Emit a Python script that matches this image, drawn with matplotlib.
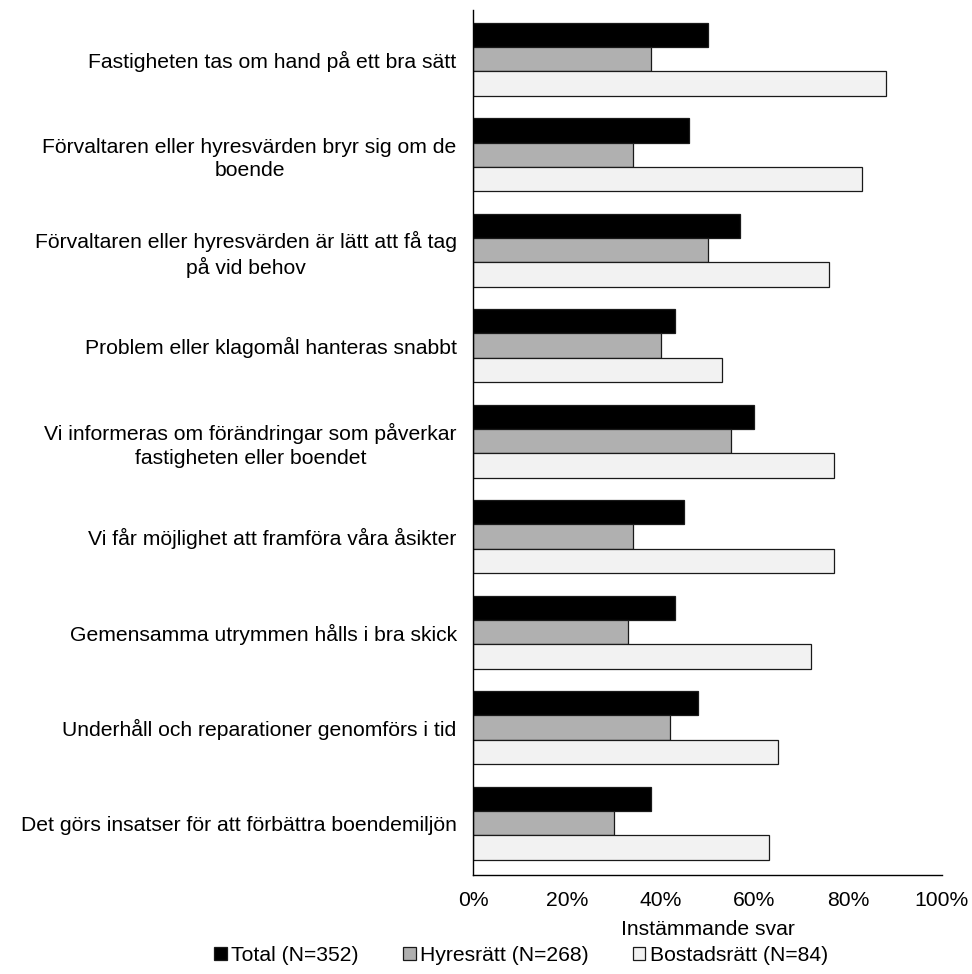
import numpy as np
import matplotlib.pyplot as plt

plt.rcParams['font.family'] = ['Liberation Sans', 'DejaVu Sans']

categories = [
    'Fastigheten tas om hand på ett bra sätt',
    'Förvaltaren eller hyresvärden bryr sig om de\nboende',
    'Förvaltaren eller hyresvärden är lätt att få tag\npå vid behov',
    'Problem eller klagomål hanteras snabbt',
    'Vi informeras om förändringar som påverkar\nfastigheten eller boendet',
    'Vi får möjlighet att framföra våra åsikter',
    'Gemensamma utrymmen hålls i bra skick',
    'Underhåll och reparationer genomförs i tid',
    'Det görs insatser för att förbättra boendemiljön',
]
total = [50, 46, 57, 43, 60, 45, 43, 48, 38]
hyresratt = [38, 34, 50, 40, 55, 34, 33, 42, 30]
bostadsratt = [88, 83, 76, 53, 77, 77, 72, 65, 63]

series_names = ['Total (N=352)', 'Hyresrätt (N=268)', 'Bostadsrätt (N=84)']
colors = ['#000000', '#b0b0b0', '#f2f2f2']
fs = 15.2

fig = plt.figure(figsize=(9.72, 9.74), dpi=100)
ax = fig.add_axes([0.487, 0.102, 0.482, 0.888])

y = np.arange(len(categories))
h = 0.255
for k, (vals, name, col) in enumerate(zip([total, hyresratt, bostadsratt], series_names, colors)):
    ax.barh(y + (k - 1) * h, vals, height=h, color=col, edgecolor='#1a1a1a',
            linewidth=0.9, label=name)

ax.set_xlim(0, 100)
ax.set_ylim(8.54, -0.518)
ax.set_yticks(y)
ax.set_yticklabels(categories, fontsize=fs, ha='right', multialignment='center',
                   linespacing=1.3)
ax.set_xticks(np.arange(0, 101, 20))
ax.set_xticklabels([f'{v}%' for v in range(0, 101, 20)], fontsize=fs)
ax.tick_params(axis='both', length=0)
ax.tick_params(axis='y', pad=12)
ax.tick_params(axis='x', pad=12)
ax.set_xlabel('Instämmande svar', fontsize=fs, labelpad=7)

for s in ['top', 'right']:
    ax.spines[s].set_visible(False)
ax.spines['left'].set_linewidth(1.0)
ax.spines['bottom'].set_linewidth(1.0)

fig.legend(loc='center', bbox_to_anchor=(0.536, 0.019), ncol=3, frameon=False,
           fontsize=fs, handlelength=0.6, handleheight=0.6, handletextpad=0.2,
           columnspacing=2.1, borderpad=0.2)

fig.savefig('out.png', dpi=100)
